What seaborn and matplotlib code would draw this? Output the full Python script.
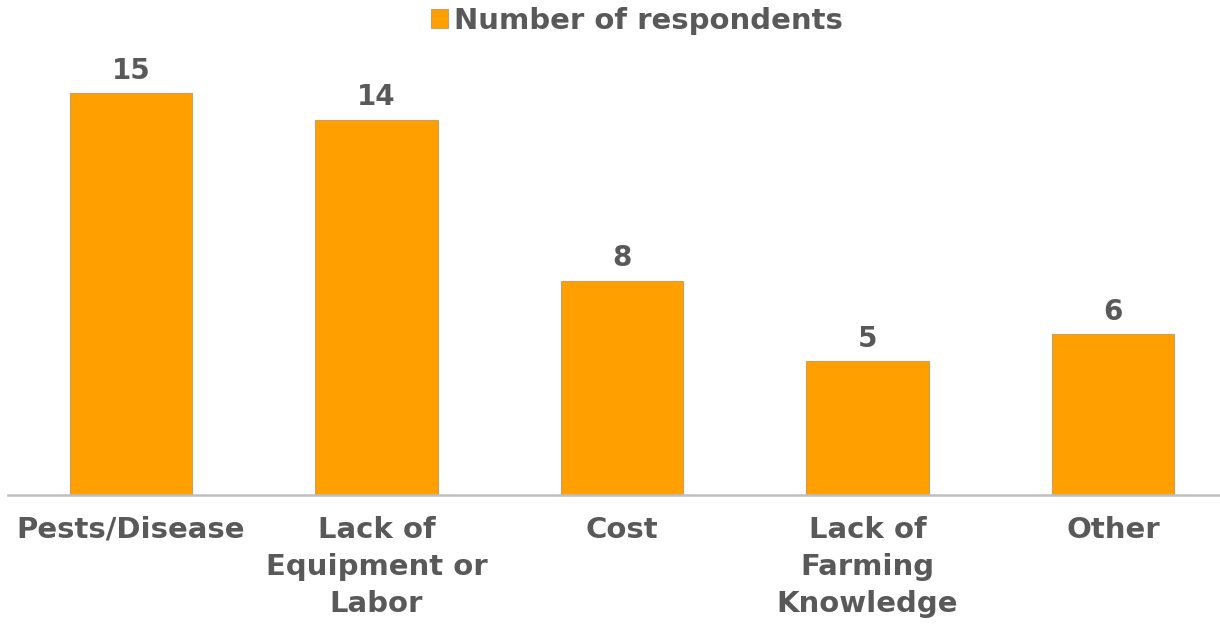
import matplotlib
matplotlib.use("Agg")
import matplotlib.pyplot as plt
from matplotlib.patches import Patch
import seaborn as sns
import pandas as pd

categories = ["Pests/Disease", "Lack of\nEquipment or\nLabor", "Cost",
              "Lack of\nFarming\nKnowledge", "Other"]
respondents = [15, 14, 8, 5, 6]
series_name = "Number of respondents"

bar_color = "#FF9F00"
text_color = "#595959"

sns.set_theme(style="white")
plt.rcParams["font.family"] = ["DejaVu Sans"]

df = pd.DataFrame({"category": categories, "value": respondents})

W, H = 1220, 627
fig = plt.figure(figsize=(W / 100, H / 100), dpi=100)
ax = fig.add_axes([8.25 / W, 132 / H, 1227.5 / W, 428.8 / H])

sns.barplot(data=df, x="category", y="value", color=bar_color, width=0.5,
            saturation=1, edgecolor="#C9A060", linewidth=0.8, ax=ax)

ax.set_xlim(-0.5, 4.5)
ax.set_ylim(0, 16)
ax.set_xlabel("")
ax.set_ylabel("")
ax.set_yticks([])
for s in ["top", "right", "left"]:
    ax.spines[s].set_visible(False)
ax.spines["bottom"].set_color("#BFBFBF")
ax.spines["bottom"].set_linewidth(1.8)

ax.tick_params(axis="x", length=0, pad=15)
for lbl in ax.get_xticklabels():
    lbl.set_fontsize(21)
    lbl.set_fontweight("bold")
    lbl.set_color(text_color)
    lbl.set_linespacing(1.42)
    lbl.set_va("top")

for container in ax.containers:
    ax.bar_label(container, labels=[str(v) for v in respondents], padding=6,
                 fontsize=20, fontweight="bold", color=text_color)

fig.legend(handles=[Patch(facecolor=bar_color, edgecolor="#C9A060", linewidth=0.8)],
           labels=[series_name], loc="center", bbox_to_anchor=(637 / W, 1 - 21 / H),
           frameon=False, handlelength=0.6, handleheight=0.6, handletextpad=0.2,
           prop={"size": 21, "weight": "bold"}, labelcolor=text_color)

fig.savefig("out.png", dpi=100)
